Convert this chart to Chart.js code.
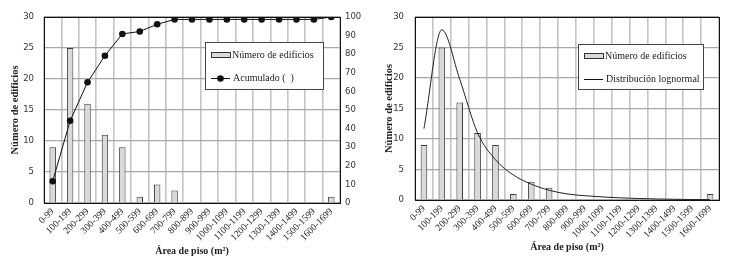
<!DOCTYPE html>
<html>
<head>
<meta charset="utf-8">
<script src="https://cdn.jsdelivr.net/npm/chart.js@4/dist/chart.umd.min.js"></script>
<style>
  html, body { margin: 0; padding: 0; background: #fff; }
  #wrap { position: relative; width: 733px; height: 263px; }
  .box { position: absolute; top: 0; height: 263px; }
</style>
</head>
<body>
<div id="wrap">
  <div class="box" style="left:0;width:370px"><canvas id="acumulado"></canvas></div>
  <div class="box" style="left:370px;width:363px"><canvas id="lognormal"></canvas></div>
</div>
<script>
// categorias de área de piso
const categorias = ['0-99', '100-199', '200-299', '300-399', '400-499', '500-599', '600-699',
  '700-799', '800-899', '900-999', '1000-1099', '1100-1199', '1200-1299', '1300-1399',
  '1400-1499', '1500-1599', '1600-1699'];
// número de edificios por categoría
const edificios = [9, 25, 16, 11, 9, 1, 3, 2, 0, 0, 0, 0, 0, 0, 0, 0, 1];
// acumulado (%)
const acumulado = [11.7, 44.2, 64.9, 79.2, 90.9, 92.2, 96.1, 98.7, 98.7, 98.7, 98.7,
  98.7, 98.7, 98.7, 98.7, 98.7, 100];
// curva lognormal
const lognormal = [11.7, 27.9, 19.8, 11.0, 6.6, 4.1, 2.6, 1.6, 1.0, 0.7, 0.5, 0.35,
  0.25, 0.17, 0.12, 0.08, 0.06];
// marcas de los ejes
const ticksIzq = [0, 5, 10, 15, 20, 25, 30];
const ticksDer = [0, 10, 20, 30, 40, 50, 60, 70, 80, 90, 100];

const serif = '"Liberation Serif", "DejaVu Serif", serif';
const sans = '"DejaVu Sans", sans-serif';
const texto = '#222';

// dibuja el marco y la leyenda dentro del área del gráfico
const marcoLeyenda = {
  id: 'marcoLeyenda',
  afterDatasetsDraw(chart, args, opts) {
    const ctx = chart.ctx;
    const a = chart.chartArea;
    ctx.save();
    ctx.strokeStyle = '#111';
    ctx.lineWidth = 1;
    ctx.strokeRect(Math.round(a.left) + 0.5, Math.round(a.top) + 0.5,
      Math.round(a.right - a.left), Math.round(a.bottom - a.top));

    const b = opts.box;
    ctx.fillStyle = '#fff';
    ctx.fillRect(b.x, b.y, b.w, b.h);
    ctx.strokeStyle = '#444';
    ctx.strokeRect(b.x + 0.5, b.y + 0.5, b.w, b.h);

    ctx.font = '10px ' + serif;
    ctx.fillStyle = texto;
    ctx.textBaseline = 'middle';
    // muestra de barra
    const sx = b.x + 6, sw = 19;
    let y = b.y + opts.row1;
    ctx.fillStyle = '#d9d9d9';
    ctx.fillRect(sx, y - 2.5, sw, 5);
    ctx.strokeStyle = '#333';
    ctx.strokeRect(sx + 0.5, y - 2.5, sw, 5);
    ctx.fillStyle = texto;
    ctx.fillText(chart.data.datasets[0].label, sx + sw + 2, y);
    // muestra de línea
    y = b.y + opts.row2;
    ctx.strokeStyle = '#111';
    ctx.beginPath();
    ctx.moveTo(sx, y + 0.5);
    ctx.lineTo(sx + sw, y + 0.5);
    ctx.stroke();
    if (opts.punto) {
      ctx.fillStyle = '#111';
      ctx.beginPath();
      ctx.arc(sx + sw / 2, y + 0.5, 3.3, 0, Math.PI * 2);
      ctx.fill();
    }
    ctx.fillStyle = texto;
    ctx.fillText(chart.data.datasets[1].label, sx + sw + 3, y);
    ctx.restore();
  }
};

function ejeX(pb) {
  return {
    type: 'category',
    offset: true,
    afterFit: s => { s.height = pb.h; },
    grid: { offset: true, color: '#c4c4c4', lineWidth: 1.6, drawTicks: false },
    border: { display: false },
    ticks: {
      color: texto, font: { family: serif, size: 9.5 },
      minRotation: 45, maxRotation: 45, padding: 3, autoSkip: false
    },
    title: {
      display: true, text: 'Área de piso (m²)', color: texto,
      font: { family: serif, size: 10, weight: 'bold' },
      padding: { top: 0, bottom: pb.t }
    }
  };
}

function ejeY(ancho, tp, pad) {
  return {
    position: 'left',
    min: 0, max: 30,
    afterFit: s => { s.width = ancho; },
    afterBuildTicks: s => { s.ticks = ticksIzq.map(v => ({ value: v })); },
    grid: { color: '#a8a8a8', lineWidth: 1.2, drawTicks: false },
    border: { display: false },
    ticks: { color: '#333', font: { family: sans, size: 8.5 }, padding: pad },
    title: {
      display: true, text: 'Número de edificios', color: texto,
      font: { family: serif, size: 10.5, weight: 'bold' },
      padding: { top: tp, bottom: 0 }
    }
  };
}

function barras() {
  return {
    type: 'bar',
    label: 'Número de edificios',
    data: edificios,
    backgroundColor: '#d9d9d9',
    borderColor: '#3a3a3a',
    borderWidth: 1,
    borderSkipped: 'bottom',
    barPercentage: 0.37,
    categoryPercentage: 1,
    yAxisID: 'y',
    order: 2
  };
}

new Chart(document.getElementById('acumulado'), {
  type: 'bar',
  data: {
    labels: categorias,
    datasets: [
      barras(),
      {
        type: 'line',
        label: 'Acumulado (  )',
        data: acumulado,
        borderColor: '#111',
        borderWidth: 1,
        pointRadius: 3.3,
        pointBackgroundColor: '#111',
        pointBorderWidth: 0,
        tension: 0,
        yAxisID: 'y1',
        order: 1
      }
    ]
  },
  options: {
    responsive: true,
    maintainAspectRatio: false,
    animation: false,
    layout: { padding: { top: 17, left: 0, right: 0, bottom: 0 } },
    plugins: {
      legend: { display: false },
      tooltip: { enabled: false },
      marcoLeyenda: { box: { x: 205, y: 42, w: 118, h: 47 }, row1: 13, row2: 36, punto: true }
    },
    scales: {
      x: ejeX({ h: 60, t: 6 }),
      y: ejeY(44, 9, 10),
      y1: {
        position: 'right',
        min: 0, max: 100,
        afterFit: s => { s.width = 30; },
        afterBuildTicks: s => { s.ticks = ticksDer.map(v => ({ value: v })); },
        grid: { display: false, drawTicks: false },
        border: { display: false },
        ticks: { color: '#333', font: { family: sans, size: 8.5 }, padding: 5 }
      }
    }
  },
  plugins: [marcoLeyenda]
});

new Chart(document.getElementById('lognormal'), {
  type: 'bar',
  data: {
    labels: categorias,
    datasets: [
      barras(),
      {
        type: 'line',
        label: 'Distribución lognormal',
        data: lognormal,
        borderColor: '#222',
        borderWidth: 1,
        pointRadius: 0,
        cubicInterpolationMode: 'monotone',
        yAxisID: 'y',
        order: 1
      }
    ]
  },
  options: {
    responsive: true,
    maintainAspectRatio: false,
    animation: false,
    layout: { padding: { top: 17, left: 0, right: 14, bottom: 0 } },
    plugins: {
      legend: { display: false },
      tooltip: { enabled: false },
      marcoLeyenda: { box: { x: 208, y: 44, w: 125, h: 45 }, row1: 12, row2: 35, punto: false }
    },
    scales: {
      x: ejeX({ h: 63, t: 10 }),
      y: ejeY(45, 13, 11)
    }
  },
  plugins: [marcoLeyenda]
});
</script>
</body>
</html>
